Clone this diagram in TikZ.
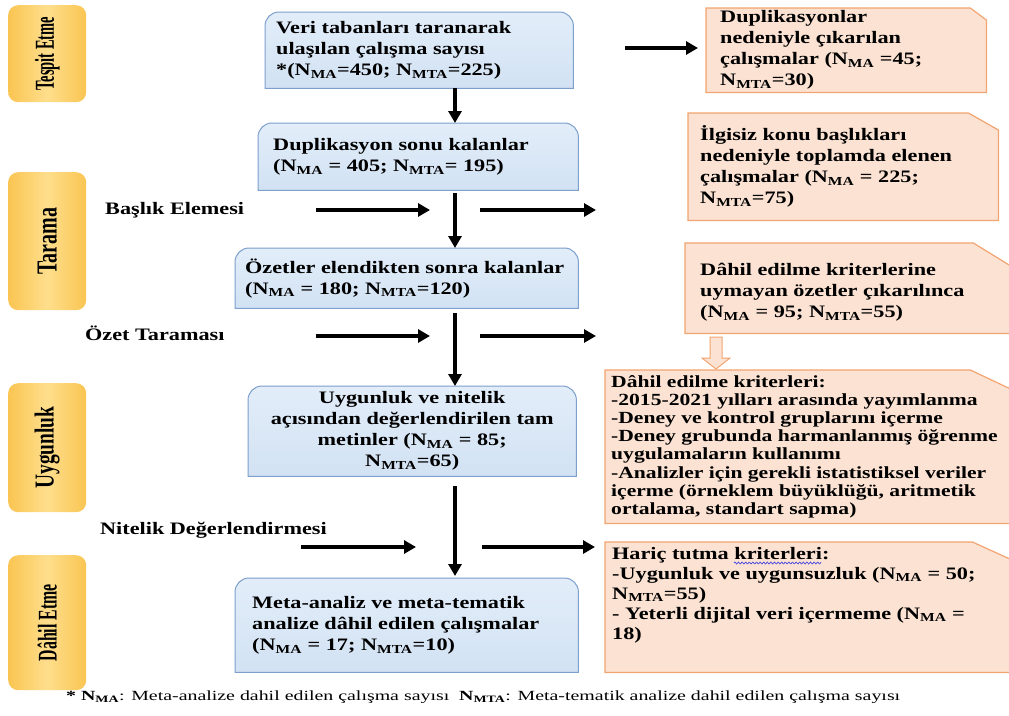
\documentclass[tikz,border=0pt]{standalone}
\usepackage{fontspec}
\setmainfont{Liberation Serif}[FakeStretch=1.27]
\newfontfamily\footfont{Liberation Serif}[FakeStretch=1.42]
\usepackage{graphicx}
\usetikzlibrary{arrows.meta,calc}
\newcommand\Nma{N\textsubscript{MA}}
\newcommand\Nmta{N\textsubscript{MTA}}
\definecolor{yelL}{RGB}{250,197,82}
\definecolor{yelM}{RGB}{254,222,140}
\definecolor{bluT}{RGB}{226,237,249}
\definecolor{bluB}{RGB}{210,226,243}
\definecolor{bluD}{RGB}{125,160,205}
\definecolor{orF}{RGB}{251,226,211}
\definecolor{orD}{RGB}{243,164,112}
\definecolor{wavecol}{RGB}{70,70,220}
\tikzset{
  area/.style={inner sep=0pt, draw=none, anchor=north west},
  yellowbox/.style={area, rounded corners=10pt, left color=yelL, right color=yelL, middle color=yelM},
  blueshape/.style={draw=bluD, line width=1pt, top color=bluT, bottom color=bluB},
  orangeshape/.style={draw=orD, line width=1.2pt, fill=orF},
  btext/.style={inner sep=0pt, align=left, font=\fontsize{17.5}{21}\selectfont\bfseries},
  smalltext/.style={inner sep=0pt, align=left, font=\fontsize{17}{18.2}\selectfont\bfseries},
  arr/.style={line width=3.5pt, -{Triangle[length=12pt,width=13pt]}},
  blockarrow/.style={draw=orD, line width=1pt, fill=orF},
  squiggle/.style={draw=wavecol, line width=0.7pt}
}
\newcommand\bluebox[1]{\path[blueshape] (#1.south west) -- ([yshift=-14pt]#1.north west) arc[start angle=180,end angle=90,radius=14pt] -- ([xshift=-14pt]#1.north east) arc[start angle=90,end angle=0,radius=14pt] -- (#1.south east) -- cycle;}
\newcommand\snipbox[3]{\path[orangeshape] (#1.south west) -- (#1.north west) -- ([xshift=-#2]#1.north east) -- ([yshift=-#3]#1.north east) -- (#1.south east) -- cycle;}
\begin{document}
\begin{tikzpicture}[x=1pt,y=1pt]
\useasboundingbox (0,0) rectangle (1009,-715);
% side stage boxes
\node[yellowbox, minimum width=78pt, minimum height=97pt] (y1) at (8,-5) {\rotatebox{90}{\resizebox{74pt}{19pt}{\bfseries Tespit Etme}}};
\node[yellowbox, minimum width=78pt, minimum height=138pt] (y2) at (8,-172) {\rotatebox{90}{\resizebox{67pt}{19pt}{\bfseries Tarama}}};
\node[yellowbox, minimum width=78pt, minimum height=129pt] (y3) at (8,-383) {\rotatebox{90}{\resizebox{82pt}{19pt}{\bfseries Uygunluk}}};
\node[yellowbox, minimum width=78pt, minimum height=135pt] (y4) at (8,-555) {\rotatebox{90}{\resizebox{77pt}{19pt}{\bfseries Dâhil Etme}}};
% blue boxes
\node[area, minimum width=308pt, minimum height=76pt] (b1) at (265,-12) {};
\node[area, minimum width=320pt, minimum height=67pt] (b2) at (258,-123) {};
\node[area, minimum width=343pt, minimum height=60pt] (b3) at (235,-248) {};
\node[area, minimum width=328pt, minimum height=90pt] (b4) at (248,-386) {};
\node[area, minimum width=343pt, minimum height=94pt] (b5) at (235,-578) {};
\bluebox{b1}\bluebox{b2}\bluebox{b3}\bluebox{b4}\bluebox{b5}
% orange boxes
\node[area, minimum width=280pt, minimum height=84pt] (o1) at (706,-8) {};
\node[area, minimum width=310pt, minimum height=107pt] (o2) at (688,-113) {};
\node[area, minimum width=340pt, minimum height=90pt] (o3) at (685,-243) {};
\node[area, minimum width=420pt, minimum height=153pt] (o4) at (605,-370) {};
\node[area, minimum width=420pt, minimum height=130pt] (o5) at (605,-542) {};
\snipbox{o1}{16pt}{12pt}\snipbox{o2}{30pt}{17pt}\snipbox{o3}{52pt}{32pt}\snipbox{o4}{55pt}{26pt}\snipbox{o5}{53pt}{24pt}
% texts in blue boxes
\node[btext, anchor=west] (tb1) at ([xshift=11pt]b1.west) {Veri tabanları taranarak\\ulaşılan çalışma sayısı\\*(\Nma=450; \Nmta=225)};
\node[btext, anchor=west] (tb2) at ([xshift=15pt]b2.west) {Duplikasyon sonu kalanlar\\(\Nma{} = 405; \Nmta= 195)};
\node[btext, anchor=west] (tb3) at ([xshift=10pt]b3.west) {Özetler elendikten sonra kalanlar\\(\Nma{} = 180; \Nmta=120)};
\node[btext, align=center] (tb4) at (b4.center) {Uygunluk ve nitelik\\açısından değerlendirilen tam\\metinler (\Nma{} = 85;\\\Nmta=65)};
\node[btext, anchor=west] (tb5) at ([xshift=17pt]b5.west) {Meta-analiz ve meta-tematik\\analize dâhil edilen çalışmalar\\(\Nma{} = 17; \Nmta=10)};
% texts in orange boxes
\node[btext, anchor=west] (to1) at ([xshift=14pt]o1.west) {Duplikasyonlar\\nedeniyle çıkarılan\\çalışmalar (\Nma{} =45;\\\Nmta=30)};
\node[btext, anchor=west] (to2) at ([xshift=12pt]o2.west) {İlgisiz konu başlıkları\\nedeniyle toplamda elenen\\çalışmalar (\Nma{} = 225;\\\Nmta=75)};
\node[btext, anchor=west] (to3) at ([xshift=15pt,yshift=-4pt]o3.west) {Dâhil edilme kriterlerine\\uymayan özetler çıkarılınca\\(\Nma{} = 95; \Nmta=55)};
\node[smalltext, anchor=west] (to4) at ([xshift=6pt]o4.west) {Dâhil edilme kriterleri:\\-2015-2021 yılları arasında yayımlanma\\-Deney ve kontrol gruplarını içerme\\-Deney grubunda harmanlanmış öğrenme\\uygulamaların kullanımı\\-Analizler için gerekli istatistiksel veriler\\içerme (örneklem büyüklüğü, aritmetik\\ortalama, standart sapma)};
\node[btext, anchor=north west, font=\fontsize{17.5}{20}\selectfont\bfseries] (to5) at ([xshift=7pt,yshift=-5pt]o5.north west) {Hariç tutma kriterleri:\\-Uygunluk ve uygunsuzluk (\Nma{} = 50;\\\Nmta=55)\\- Yeterli dijital veri içermeme (\Nma{} =\\18)};
\begin{scope}[shift={(to5.north west)}]
\draw[squiggle] plot[domain=0:87, samples=100, smooth] ({\x+122}, {-16+1*sin(\x*100)});
\end{scope}
% block arrow between o3 and o4
\coordinate (da) at (716,-337);
\path[blockarrow] ([xshift=-6pt]da) -- ([xshift=6pt]da) -- ([xshift=6pt,yshift=-21pt]da) -- ([xshift=14pt,yshift=-21pt]da) -- ([yshift=-32pt]da) -- ([xshift=-14pt,yshift=-21pt]da) -- ([xshift=-6pt,yshift=-21pt]da) -- cycle;
% side labels
\node[btext, anchor=west] (l1) at (105,-210) {Başlık Elemesi};
\node[btext, anchor=west] (l2) at (85,-333) {Özet Taraması};
\node[btext, anchor=west] (l3) at (100,-530) {Nitelik Değerlendirmesi};
% vertical arrows
\coordinate (ax) at (455,0);
\draw[arr] (b1.south -| ax) -- (b2.north -| ax);
\draw[arr, shorten <=3pt] (b2.south -| ax) -- (b3.north -| ax);
\draw[arr, shorten <=5pt] (b3.south -| ax) -- (b4.north -| ax);
\draw[arr, shorten <=10pt, shorten >=2pt] (b4.south -| ax) -- (b5.north -| ax);
% horizontal arrows
\coordinate (h1) at (625,-48);
\draw[arr, shorten >=8pt] (h1) -- (h1 -| o1.west);
\coordinate (h2a) at (316,-210); \coordinate (h2b) at (430,-210);
\coordinate (h2c) at (480,-210); \coordinate (h2d) at (596,-210);
\draw[arr] (h2a) -- (h2b); \draw[arr] (h2c) -- (h2d);
\coordinate (h3a) at (316,-336); \coordinate (h3b) at (430,-336);
\coordinate (h3c) at (480,-336); \coordinate (h3d) at (596,-336);
\draw[arr] (h3a) -- (h3b); \draw[arr] (h3c) -- (h3d);
\coordinate (h4a) at (301,-547); \coordinate (h4b) at (416,-547);
\coordinate (h4c) at (482,-547); \coordinate (h4d) at (595,-547);
\draw[arr] (h4a) -- (h4b); \draw[arr] (h4c) -- (h4d);
% footer
\node[anchor=base west, inner sep=0pt, font=\footfont\fontsize{14}{16}\selectfont] (foot) at (66,-700) {\textbf{* \Nma}: Meta-analize dahil edilen çalışma sayısı\ \ \textbf{\Nmta}: Meta-tematik analize dahil edilen çalışma sayısı};
\end{tikzpicture}
\end{document}
